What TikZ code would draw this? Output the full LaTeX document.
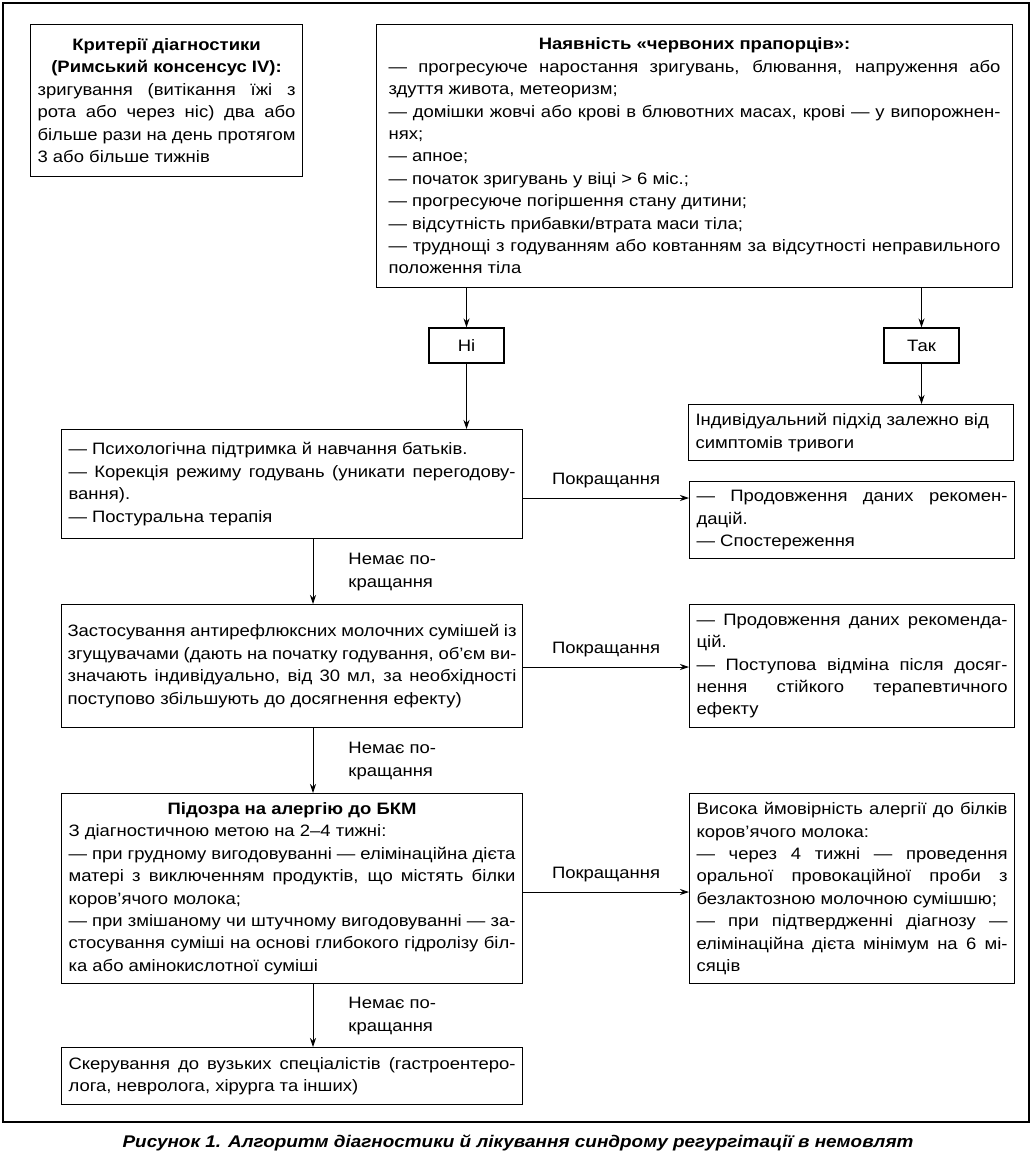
\documentclass[tikz,border=0pt]{standalone}
\usepackage{fontspec}
\setmainfont{Liberation Sans}[FakeStretch=1.12]
\usetikzlibrary{positioning,arrows.meta,calc}
\newcommand{\stagefont}{\fontsize{16.5}{22.4}\selectfont\tolerance=9999 \parindent=0pt }

\begin{document}
\begin{tikzpicture}[x=1pt, y=-1pt, >={Stealth[length=9pt,width=6pt]},
    stage/.style={draw, line width=1.1pt, anchor=north west, inner xsep=7pt, inner ysep=3pt,
        align=justify, font=\stagefont},
    answer/.style={draw, line width=1.1pt, minimum width=75pt, minimum height=35pt,
        font=\fontsize{16.5}{20}\selectfont},
    flow/.style={->, line width=0.9pt},
    note/.style={inner sep=0pt, align=left, font=\fontsize{16.5}{23}\selectfont}]

    \useasboundingbox (0,0) rectangle (1032,1154);
    \draw[line width=1.1pt] (3,3) rectangle (1029,1122);

    % ================= TOP: CRITERIA AND RED FLAGS =================
    \node[stage, text width=258pt, minimum height=152pt] (crit) at (30,24)
        {{\centering\bfseries Критерії діагностики\par (Римський консенсус IV):\par}
         зригування (витікання їжі з\linebreak
         рота або через ніс) два або\linebreak
         більше рази на день протягом\linebreak
         3 або більше тижнів};

    \node[stage, inner xsep=12pt, text width=612pt, minimum height=263pt] (flags) at (376,24)
        {{\centering\bfseries Наявність «червоних прапорців»:\par}
         — прогресуюче наростання зригувань, блювання, напруження або\linebreak
         здуття живота, метеоризм;\par
         — домішки жовчі або крові в блювотних масах, крові — у випорожнен-\linebreak
         нях;\par
         — апное;\par
         — початок зригувань у віці > 6 міс.;\par
         — прогресуюче погіршення стану дитини;\par
         — відсутність прибавки/втрата маси тіла;\par
         — труднощі з годуванням або ковтанням за відсутності неправильного\linebreak
         положення тіла};

    % Answers
    \node[answer] (no) at (466.5,345.5) {Ні};
    \node[answer] (yes) at (921.5,345.5) {Так};

    % ================= LEFT COLUMN: STEPS =================
    \node[stage, text width=447pt, minimum height=109pt] (conserv) at (61,429)
        {— Психологічна підтримка й навчання батьків.\par
         — Корекція режиму годувань (уникати перегодову-\linebreak
         вання).\par
         — Постуральна терапія};

    \node[stage, inner xsep=6pt, text width=449pt, minimum height=123pt] (formula) at (61,604)
        {Застосування антирефлюксних молочних сумішей із\linebreak
         згущувачами (дають на початку годування, об’єм ви-\linebreak
         значають індивідуально, від 30 мл, за необхідності\linebreak
         поступово збільшують до досягнення ефекту)};

    \node[stage, text width=447pt, minimum height=190pt] (allergy) at (61,793)
        {{\centering\bfseries Підозра на алергію до БКМ\par}
         З діагностичною метою на 2–4 тижні:\par
         — при грудному вигодовуванні — елімінаційна дієта\linebreak
         матері з виключенням продуктів, що містять білки\linebreak
         коров’ячого молока;\par
         — при змішаному чи штучному вигодовуванні — за-\linebreak
         стосування суміші на основі глибокого гідролізу біл-\linebreak
         ка або амінокислотної суміші};

    \node[stage, text width=447pt, minimum height=57pt] (refer) at (61,1047)
        {Скерування до вузьких спеціалістів (гастроентеро-\linebreak
         лога, невролога, хірурга та інших)};

    % ================= RIGHT COLUMN: OUTCOMES =================
    \node[stage, text width=311pt, minimum height=56pt] (indiv) at (688,404)
        {Індивідуальний підхід залежно від\par
         симптомів тривоги};

    \node[stage, text width=311pt, minimum height=77pt] (contin) at (689,481)
        {— Продовження даних рекомен-\linebreak
         дацій.\par
         — Спостереження};

    \node[stage, text width=311pt, minimum height=123pt] (wean) at (689,604)
        {— Продовження даних рекоменда-\linebreak
         цій.\par
         — Поступова відміна після досяг-\linebreak
         нення стійкого терапевтичного\linebreak
         ефекту};

    \node[stage, text width=311pt, minimum height=190pt] (probe) at (689,793)
        {Висока ймовірність алергії до білків\linebreak
         коров’ячого молока:\par
         — через 4 тижні — проведення\linebreak
         оральної провокаційної проби з\linebreak
         безлактозною молочною сумішшю;\par
         — при підтвердженні діагнозу —\linebreak
         елімінаційна дієта мінімум на 6 мі-\linebreak
         сяців};

    % Caption
    \node[font=\bfseries\itshape\fontsize{16.9}{20}\selectfont] (caption) at (518,1143)
        {Рисунок 1. Алгоритм діагностики й лікування синдрому регургітації в немовлят};

    % ================= CONNECTORS =================
    \coordinate (spine) at (313,0);
    \coordinate (lvl1) at (0,498);
    \coordinate (lvl2) at (0,667);
    \coordinate (lvl3) at (0,892);

    \draw[flow] (flags.south -| no) -- (no);
    \draw[flow] (no) -- (no |- conserv.north);
    \draw[flow] (flags.south -| yes) -- (yes);
    \draw[flow] (yes) -- (yes |- indiv.north);

    % Improvement
    \draw[flow] (conserv.east |- lvl1) -- node[note, above=10pt] {Покращання} (contin.west |- lvl1);
    \draw[flow] (formula.east |- lvl2) -- node[note, above=10pt] {Покращання} (wean.west |- lvl2);
    \draw[flow] (allergy.east |- lvl3) -- node[note, above=10pt] {Покращання} (probe.west |- lvl3);

    % No improvement
    \draw[flow] (conserv.south -| spine) -- node[note, right=35pt] {Немає по-\\кращання} (formula.north -| spine);
    \draw[flow] (formula.south -| spine) -- node[note, right=35pt] {Немає по-\\кращання} (allergy.north -| spine);
    \draw[flow] (allergy.south -| spine) -- node[note, right=35pt] {Немає по-\\кращання} (refer.north -| spine);

\end{tikzpicture}
\end{document}
